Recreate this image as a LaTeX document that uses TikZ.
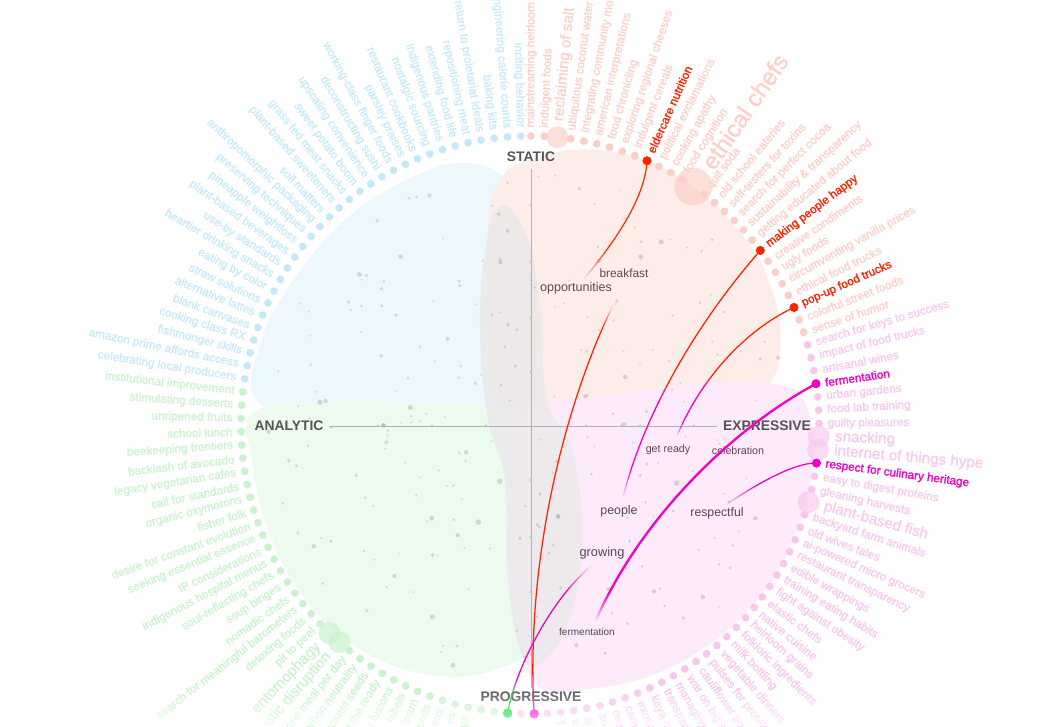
\documentclass[tikz,border=0pt]{standalone}
\usepackage{fontspec}
\setmainfont{Liberation Sans}
\newfontfamily\ringfont[FakeBold=1]{Liberation Sans}
\newfontfamily\ringfontH[FakeBold=1.6]{Liberation Sans}
\usetikzlibrary{fadings}

\definecolor{bT}{HTML}{C6EAFB}
\definecolor{bD}{HTML}{C6E9FA}
\definecolor{sT}{HTML}{FCD0C8}
\definecolor{sD}{HTML}{FBCEC6}
\definecolor{gT}{HTML}{CAF3CE}
\definecolor{gD}{HTML}{C9F2CD}
\definecolor{pT}{HTML}{FAC8EE}
\definecolor{pD}{HTML}{F9C7EC}
\definecolor{hR}{HTML}{FF2400}
\definecolor{hM}{HTML}{F200C4}
\definecolor{hG}{HTML}{00D82A}
\definecolor{blobB}{HTML}{EDF8FD}
\definecolor{blobS}{HTML}{FDEDE9}
\definecolor{blobG}{HTML}{EDFBEF}
\definecolor{blobP}{HTML}{FDEBFB}
\definecolor{blobX}{HTML}{E9E9E9}
\definecolor{axisC}{HTML}{555555}
\definecolor{innerS}{HTML}{5E4A4A}
\definecolor{innerP}{HTML}{5C4359}

% fadings: white = opaque, black = transparent; 25bp..75bp = path bbox (bottom..top)
\pgfdeclareverticalshading{shC1}{100bp}{color(0bp)=(black); color(25bp)=(black); color(38bp)=(white); color(100bp)=(white)}
\pgfdeclarefading{fC1}{\pgfuseshading{shC1}}
\pgfdeclareverticalshading{shC2r}{100bp}{color(0bp)=(black); color(27bp)=(black); color(30bp)=(white); color(71bp)=(white); color(74bp)=(black); color(100bp)=(black)}
\pgfdeclarefading{fC2r}{\pgfuseshading{shC2r}}
\pgfdeclareverticalshading{shC2m}{100bp}{color(0bp)=(white); color(27bp)=(white); color(30bp)=(black); color(100bp)=(black)}
\pgfdeclarefading{fC2m}{\pgfuseshading{shC2m}}
\pgfdeclareverticalshading{shC3r}{100bp}{color(0bp)=(black); color(41bp)=(black); color(48bp)=(white); color(100bp)=(white)}
\pgfdeclarefading{fC3r}{\pgfuseshading{shC3r}}
\pgfdeclareverticalshading{shC3m}{100bp}{color(0bp)=(black); color(25bp)=(black); color(31bp)=(white); color(44bp)=(white); color(49bp)=(black); color(100bp)=(black)}
\pgfdeclarefading{fC3m}{\pgfuseshading{shC3m}}
\pgfdeclareverticalshading{shC5}{100bp}{color(0bp)=(black); color(25bp)=(black); color(31bp)=(white); color(100bp)=(white)}
\pgfdeclarefading{fC5}{\pgfuseshading{shC5}}
\pgfdeclareverticalshading{shC6g}{100bp}{color(0bp)=(white); color(31bp)=(white); color(37bp)=(black); color(100bp)=(black)}
\pgfdeclarefading{fC6g}{\pgfuseshading{shC6g}}
\pgfdeclareverticalshading{shC6m}{100bp}{color(0bp)=(black); color(31bp)=(black); color(37bp)=(white); color(66bp)=(white); color(75bp)=(black); color(100bp)=(black)}
\pgfdeclarefading{fC6m}{\pgfuseshading{shC6m}}
\pgfdeclareverticalshading{shC7}{100bp}{color(0bp)=(black); color(25bp)=(black); color(48bp)=(white); color(100bp)=(white)}
\pgfdeclarefading{fC7}{\pgfuseshading{shC7}}
\pgfdeclareverticalshading{shBot}{100bp}{color(0bp)=(white!70!black); color(25bp)=(white!70!black); color(75bp)=(black); color(100bp)=(black)}
\pgfdeclarefading{fBot}{\pgfuseshading{shBot}}

% label kinds
\def\LTb{\def\tc{bT}\def\dc{bD}\def\fs{8.8}\def\dr{3.9}\def\br{0}\def\fo{1}\let\ff\ringfont}
\def\LTs{\def\tc{sT}\def\dc{sD}\def\fs{8.8}\def\dr{3.9}\def\br{0}\def\fo{1}\let\ff\ringfont}
\def\LTg{\def\tc{gT}\def\dc{gD}\def\fs{8.8}\def\dr{3.9}\def\br{0}\def\fo{1}\let\ff\ringfont}
\def\LTp{\def\tc{pT}\def\dc{pD}\def\fs{8.8}\def\dr{3.9}\def\br{0}\def\fo{1}\let\ff\ringfont}
\def\LTS{\def\tc{sT}\def\dc{sD}\def\fs{11.4}\def\dr{3.9}\def\br{11}\def\fo{0.65}\let\ff\ringfont}
\def\LTE{\def\tc{sT}\def\dc{sD}\def\fs{18}\def\dr{3.9}\def\br{19}\def\fo{0.65}\let\ff\ringfont}
\def\LTP{\def\tc{pT}\def\dc{pD}\def\fs{11.4}\def\dr{3.9}\def\br{11}\def\fo{0.65}\let\ff\ringfont}
\def\LTG{\def\tc{gT}\def\dc{gD}\def\fs{11.4}\def\dr{3.9}\def\br{11}\def\fo{0.65}\let\ff\ringfont}
\def\LTR{\def\tc{hR}\def\dc{hR}\def\fs{8.8}\def\dr{4.4}\def\br{0}\def\fo{1}\let\ff\ringfontH}
\def\LTM{\def\tc{hM}\def\dc{hM}\def\fs{8.8}\def\dr{4.4}\def\br{0}\def\fo{1}\let\ff\ringfontH}
\def\LTX{\def\tc{hM}\def\dc{hM}\def\fs{8.8}\def\dr{4.6}\def\br{0}\def\fo{1}\let\ff\ringfontH}
\def\LTY{\def\tc{hG}\def\dc{hG}\def\fs{8.8}\def\dr{4.6}\def\br{0}\def\fo{1}\let\ff\ringfontH}

\begin{document}
\begin{tikzpicture}[x=0.75pt,y=-0.75pt,
  axislbl/.style={font=\fontsize{10.4}{12}\selectfont\bfseries, text=axisC, inner sep=2pt},
  axisline/.style={draw=axisC!45, line width=0.7pt},
  innerlbl/.style={inner sep=1pt},
  linkline/.style={line width=0.95pt, line cap=round},
  thicklink/.style={line width=1.7pt, line cap=round}]
\useasboundingbox (0,0) rectangle (1064,726);
\clip (0,0) rectangle (1064,726);
\fill[white] (0,0) rectangle (1064,726);

% blobs
\fill[blobB] plot[smooth cycle, tension=0.7] coordinates {(258,402) (260,345) (290,285) (345,220) (410,178) (462,163) (505,178) (530,225) (540,300) (538,370) (520,408) (430,412) (330,410)};
\fill[blobS] plot[smooth cycle, tension=0.7] coordinates {(497,185) (545,155) (615,152) (680,178) (740,232) (772,290) (780,350) (760,390) (690,402) (600,408) (510,410) (490,360) (487,270)};
\fill[blobG] plot[smooth cycle, tension=0.7] coordinates {(254,412) (330,402) (440,404) (520,412) (545,470) (545,560) (535,640) (500,668) (440,676) (370,655) (310,605) (270,535) (252,460)};
\fill[blobP] plot[smooth cycle, tension=0.7] coordinates {(520,412) (600,397) (700,384) (780,385) (808,410) (812,470) (795,535) (765,590) (715,640) (650,676) (580,690) (540,688) (520,640) (512,540) (512,460)};
\fill[blobX, fill opacity=0.8] plot[smooth cycle, tension=0.7] coordinates {(502,205) (528,240) (540,310) (547,400) (572,450) (582,530) (572,610) (545,660) (522,655) (508,580) (505,480) (488,420) (480,330) (486,245)};

% scattered dots
\pgfmathsetseed{20}
\foreach \i in {1,...,240}{
  \pgfmathsetmacro\ra{rnd*360}
  \pgfmathsetmacro\rr{262*sqrt(rnd)}
  \pgfmathsetmacro\rs{1.0+1.9*rnd*rnd}
  \fill[black, fill opacity=0.13] ({530+\rr*cos(\ra)},{425+\rr*sin(\ra)}) circle[radius=\rs];
}

% axis labels and axes
\node[axislbl] (static) at (531,157) {STATIC};
\node[axislbl] (analytic) at (289,426) {ANALYTIC};
\node[axislbl] (expressive) at (767,426) {EXPRESSIVE};
\node[axislbl] (progressive) at (531,697) {PROGRESSIVE};
\draw[axisline, shorten <=3pt, shorten >=1pt] (static) -- (progressive);
\draw[axisline, shorten <=2pt, shorten >=2pt] (analytic) -- (expressive);
\foreach \yy in {205,262,318,372,480,537,592,648}{\fill[axisC!35] (531,\yy) circle[radius=1.6];}
\foreach \xx in {378,432,486,586,640,694}{\fill[axisC!35] (\xx,426) circle[radius=1.6];}

% ring of labels
\foreach \k/\txt/\kind in {
0/{mainstreaming heirloom c}/s, 1/{indulgent foods}/s, 2/{reclaiming of salt}/S,
3/{ubiquitous coconut water}/s, 4/{integrating community mo}/s, 5/{american interpretations}/s,
6/{food chronicling}/s, 7/{exploring regional cheeses}/s, 8/{indulgent cereals}/s,
9/{eldercare nutrition}/R, 10/{political exclamations}/s, 11/{cooking apathy}/s,
12/{food cognition}/s, 13/{ethical chefs}/E, 14/{quit soda}/s, 15/{old school eateries}/s,
16/{self-testers for toxins}/s, 17/{search for perfect cocoa}/s, 18/{sustainability \& transparency}/s,
19/{getting educated about food}/s, 20/{making people happy}/R, 21/{creative condiments}/s,
22/{ugly foods}/s, 23/{circumventing vanilla prices}/s, 24/{ethical food trucks}/s,
25/{pop-up food trucks}/R, 26/{colorful street foods}/s, 27/{sense of humor}/s,
28/{search for keys to success}/p, 29/{impact of food trucks}/p, 30/{artisanal wines}/p,
31/{fermentation}/M, 32/{urban gardens}/p, 33/{food lab training}/p, 34/{guilty pleasures}/p,
35/{snacking}/P, 36/{internet of things hype}/P, 37/{respect for culinary heritage}/M,
38/{easy to digest proteins}/p, 39/{gleaning harvests}/p, 40/{plant-based fish}/P,
41/{backyard farm animals}/p, 42/{old wives tales}/p, 43/{ai-powered micro grocers}/p,
44/{restaurant transparency}/p, 45/{edible wrappings}/p, 46/{training eating habits}/p,
47/{fight against obesity}/p, 48/{elastic chefs}/p, 49/{native cuisine}/p, 50/{heirloom grains}/p,
51/{folkloric ingredients}/p, 52/{milk bottling}/p, 53/{vegetable dinners}/p,
54/{pulses for protein}/p, 55/{cauliflower po}/p, 56/{war on big s}/p, 57/{managing}/p,
58/{transpar}/p, 59/{kaya co}/p, 60/{exotic}/p, 61/{cam}/p, 62/{one}/p, 63/{su}/p,
64/{sl}/p, 65/{u}/p, 66/{f}/p, 67/{}/p, 68/{}/X, 69/{}/p, 70/{}/Y, 71/{}/g, 72/{}/g,
73/{gs}/g, 74/{es}/g, 75/{ess}/g, 76/{ands}/g, 77/{learn}/g, 78/{labels}/g,
79/{l fusions}/g, 80/{t the ready}/g, 81/{peasant seeds}/g, 82/{carbon neutrality}/g,
83/{one meal per day}/g, 84/{otic disruption}/G, 85/{entomophagy}/G, 86/{pit to peel}/g,
87/{detoxing foods}/g, 88/{search for meaningful barometers}/g, 89/{nomadic chefs}/g,
90/{soup binges}/g, 91/{soul-reflecting chefs}/g, 92/{indigenous hospital menus}/g,
93/{IP considerations}/g, 94/{seeking essential essence}/g, 95/{desire for constant evolution}/g,
96/{fisher folk}/g, 97/{organic oxymorons}/g, 98/{call for standards}/g,
99/{legacy vegetarian cafes}/g, 100/{backlash of avocado}/g, 101/{beekeeping frontiers}/g,
102/{school lunch}/g, 103/{unripened fruits}/g, 104/{stimulating desserts}/g,
105/{institutional improvement}/g, 106/{celebrating local producers}/b,
107/{amazon prime affords access}/b, 108/{fishmonger skills}/b, 109/{cooking class RX}/b,
110/{blank canvases}/b, 111/{alternative lattes}/b, 112/{straw solutions}/b,
113/{eating by color}/b, 114/{heartier drinking snacks}/b, 115/{use-by standards}/b,
116/{plant-based beverages}/b, 117/{pineapple weightloss}/b, 118/{preserving techniques}/b,
119/{anthropomorphic packaging}/b, 120/{soil matters}/b, 121/{plant-based sweeteners}/b,
122/{grass fed meat snacks}/b, 123/{sweet potato boom}/b, 124/{upscaling convenience}/b,
125/{deconstructing sushi}/b, 126/{working-class finger foods}/b, 127/{parsley praises}/b,
128/{restaurant cookbooks}/b, 129/{nostalgic sourcing}/b, 130/{indigenous pantries}/b,
131/{extending food life}/b, 132/{repositioning meat}/b, 133/{return to proletariat ideals}/b,
134/{baking kits}/b, 135/{engineering calorie counts}/b, 136/{inciting behavior}/b}{
  \csname LT\kind\endcsname
  \pgfmathsetmacro\th{89.8-\k*2.632}
  \pgfmathsetmacro\px{530+289*cos(\th)}
  \pgfmathsetmacro\py{425-289*sin(\th)}
  \pgfmathsetmacro\rt{\br>0 ? 289+\br+5 : 289+\dr+4.5}
  \pgfmathsetmacro\tx{530+\rt*cos(\th)}
  \pgfmathsetmacro\tyy{425-\rt*sin(\th)}
  \pgfmathsetmacro\cs{cos(\th)}
  \ifdim\cs pt<0pt \def\an{east}\pgfmathsetmacro\rot{\th+180}\else\def\an{west}\pgfmathsetmacro\rot{\th}\fi
  \pgfmathsetmacro\dd{1.5*max(\dr,\br)}
  \node[circle, fill=\dc, fill opacity=\fo, inner sep=0pt, minimum size=\dd pt] (D\k) at (\px,\py) {};
  \node[anchor=\an, rotate=\rot, inner sep=0pt, text=\tc, font=\ff\fontsize{\fs}{\fs}\selectfont] (L\k) at (\tx,\tyy) {\txt};
}

% inner labels
\node[innerlbl, text=innerS, font=\fontsize{8.9}{10}\selectfont] (breakfast) at (624,273) {breakfast};
\node[innerlbl, text=innerS, font=\fontsize{9.4}{10}\selectfont] (opportunities) at (576,288) {opportunities};
\node[innerlbl, text=innerP, font=\fontsize{8}{10}\selectfont] (getready) at (668,450) {get ready};
\node[innerlbl, text=innerP, font=\fontsize{8}{10}\selectfont] (celebration) at (738,451) {celebration};
\node[innerlbl, text=innerP, font=\fontsize{9.3}{10}\selectfont] (people) at (619,511) {people};
\node[innerlbl, text=innerP, font=\fontsize{9.2}{10}\selectfont] (respectful) at (717,513) {respectful};
\node[innerlbl, text=innerP, font=\fontsize{9.6}{10}\selectfont] (growing) at (602,553) {growing};
\node[innerlbl, text=innerP, font=\fontsize{7.5}{10}\selectfont] (fermlbl) at (587,632) {fermentation};

% connectors
\coordinate (e1) at (584,279);
\coordinate (s2) at (617,297);
\coordinate (e3) at (623,497);
\coordinate (e4) at (677,436);
\coordinate (e5) at (596,620);
\coordinate (e6) at (592,565);
\coordinate (e7) at (727,504);
\draw[linkline, draw=hR!85!orange, path fading=fC1] (D9.center) .. controls (645,200) and (612,245) .. (e1);
\draw[linkline, draw=hR, path fading=fC2r] (s2) .. controls (565,400) and (525,560) .. (D68.center);
\draw[linkline, draw=hM, path fading=fC2m] (s2) .. controls (565,400) and (525,560) .. (D68.center);
\draw[linkline, draw=hR, path fading=fC3r] (D20.center) .. controls (708,310) and (648,400) .. (e3);
\draw[linkline, draw=hM, path fading=fC3m] (D20.center) .. controls (708,310) and (648,400) .. (e3);
\draw[linkline, draw=hR, path fading=fC3r] (D25.center) .. controls (745,330) and (700,380) .. (e4);
\draw[linkline, draw=hM, path fading=fC3m] (D25.center) .. controls (745,330) and (700,380) .. (e4);
\draw[thicklink, draw=hM, path fading=fC5] (D31.center) .. controls (730,430) and (640,520) .. (e5);
\draw[linkline, draw=hG, path fading=fC6g] (D70.center) .. controls (515,670) and (550,600) .. (e6);
\draw[linkline, draw=hM, path fading=fC6m] (D70.center) .. controls (515,670) and (550,600) .. (e6);
\draw[linkline, draw=hM, path fading=fC7] (D37.center) .. controls (795,462) and (755,485) .. (e7);

% redraw highlighted dots on top
\foreach \n/\c in {9/hR, 20/hR, 25/hR, 31/hM, 37/hM, 68/hM, 70/hG}{
  \fill[\c] (D\n) circle[radius=4.4];
}

% bottom fade
\fill[white, path fading=fBot] (0,688) rectangle (1064,726);
\end{tikzpicture}
\end{document}
